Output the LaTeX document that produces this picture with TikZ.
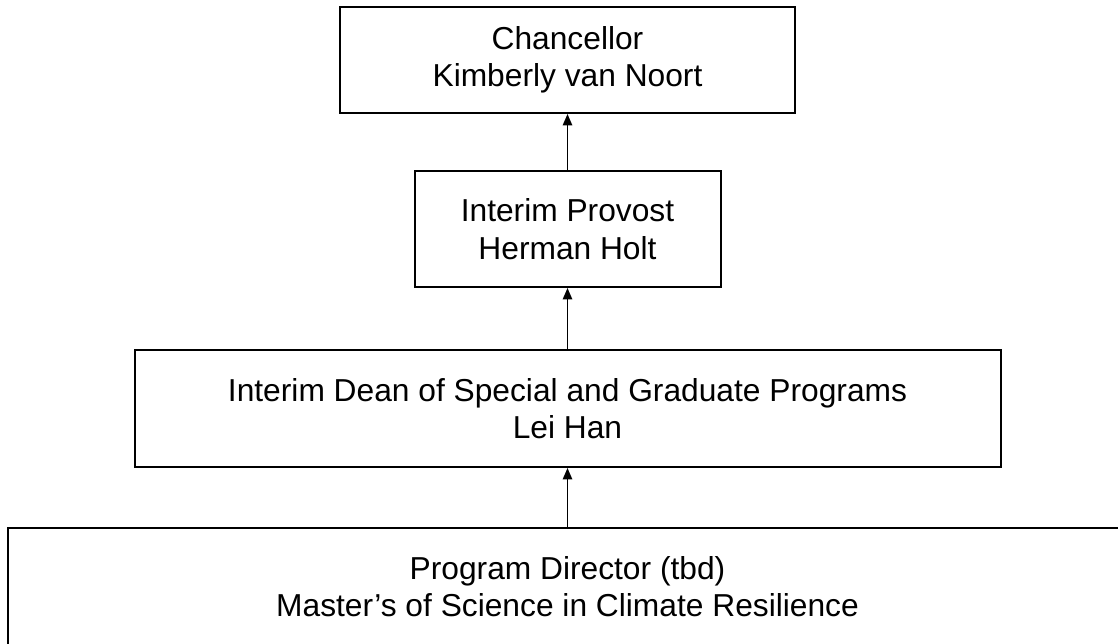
\documentclass[tikz,border=0pt]{standalone}
\usepackage{fontspec}
\setmainfont{Liberation Sans}
\usetikzlibrary{arrows.meta,positioning}

\tikzset{
  orgbox/.style={draw, line width=1.5pt, align=center, inner sep=0pt,
    font=\fontsize{23.8}{28}\selectfont},
  reportsto/.style={-{Triangle[length=8.5pt,width=7pt]}, line width=1.2pt}
}

\begin{document}
\begin{tikzpicture}[x=0.75pt,y=-0.75pt]
	\useasboundingbox (0,0) rectangle (1118,643);
	% boxes, top to bottom
	\node[orgbox, minimum width=341.25pt, minimum height=79.5pt] (chancellor) at (567.5, 60) {Chancellor\\Kimberly van Noort};
	\node[orgbox, minimum width=229.5pt, minimum height=87pt] (provost) at (567.5, 229) {Interim Provost\\Herman Holt};
	\node[orgbox, minimum width=649.5pt, minimum height=87.75pt] (dean) at (567.5, 408.5) {Interim Dean of Special and Graduate Programs\\Lei Han};
	\node[orgbox, minimum width=840pt, minimum height=87.75pt] (director) at (567.5, 586.5) {Program Director (tbd)\\Master’s of Science in Climate Resilience};
	% reporting lines
 	\draw[reportsto] (provost) -- (chancellor);
 	\draw[reportsto] (dean) -- (provost);
 	\draw[reportsto] (director) -- (dean);
\end{tikzpicture}
\end{document}
